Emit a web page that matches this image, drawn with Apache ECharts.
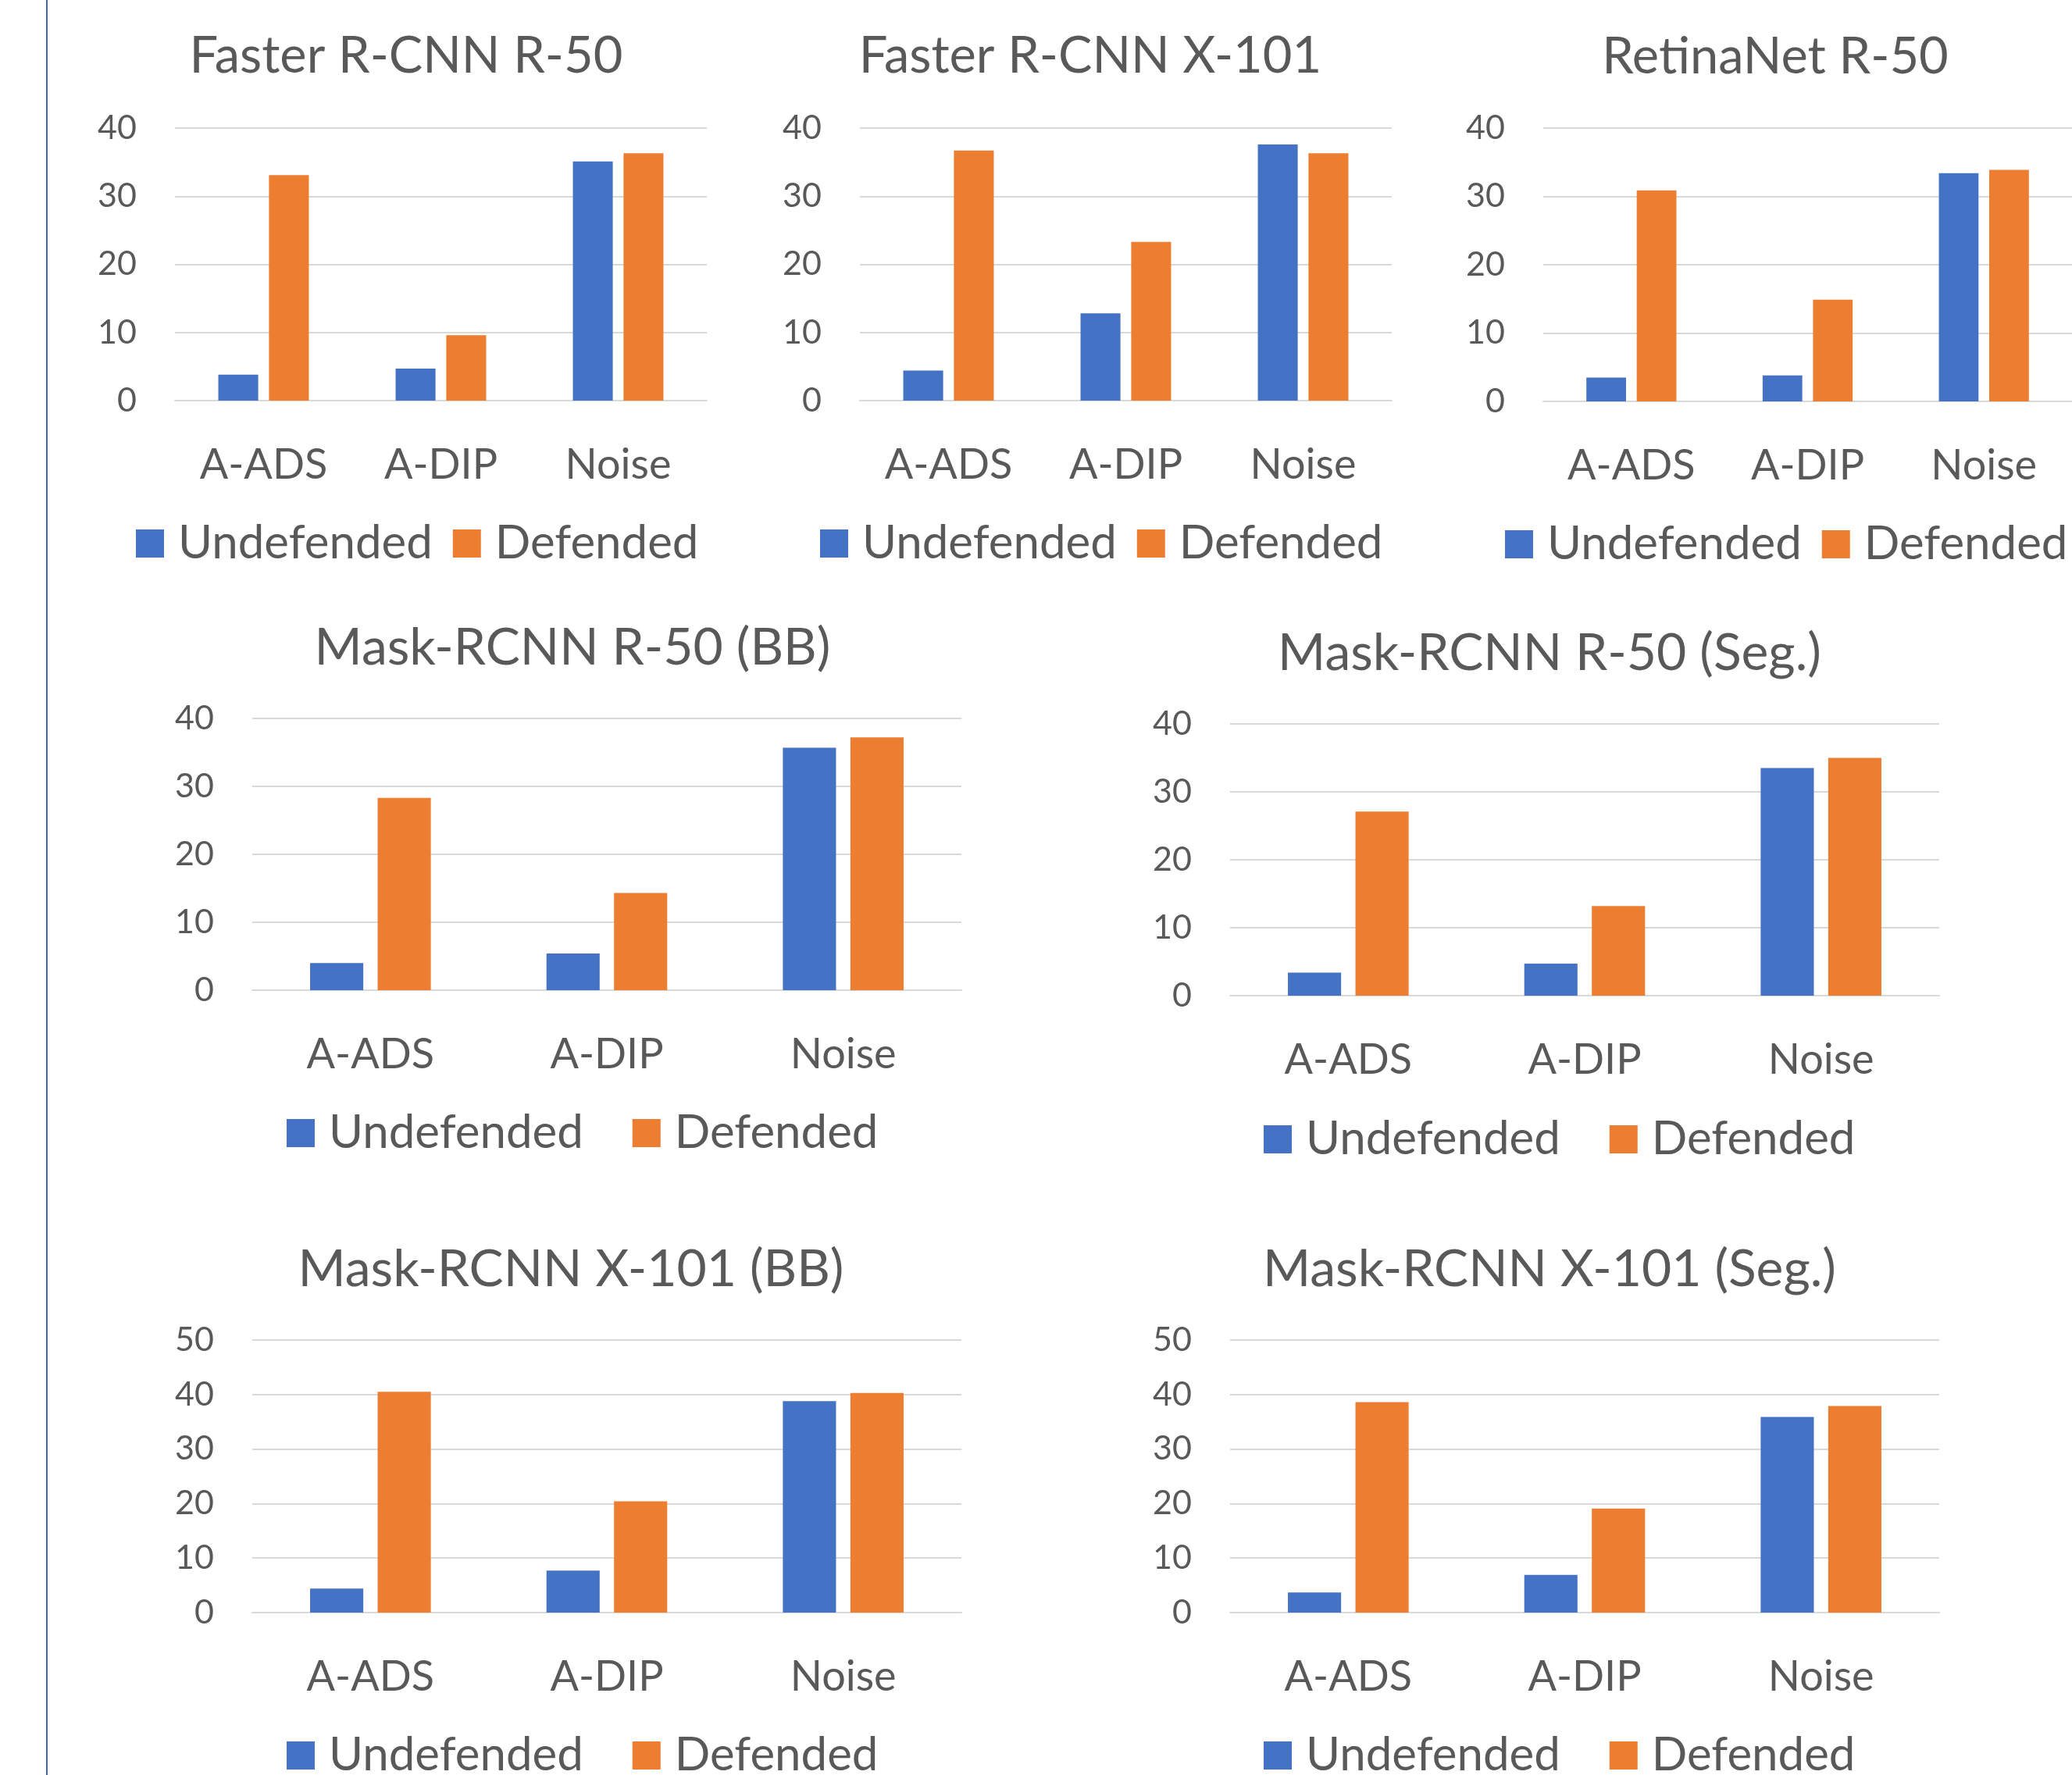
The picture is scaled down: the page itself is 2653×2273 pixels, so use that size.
<!DOCTYPE html>
<html>
<head>
<meta charset="utf-8">
<title>Undefended vs Defended</title>
<script src="https://cdn.jsdelivr.net/npm/echarts@6/dist/echarts.min.js"></script>
<style>
  html, body { margin: 0; padding: 0; background: #fff; }
  #chart { width: 2653px; height: 2273px; }
</style>
</head>
<body>
<div id="chart"></div>
<script>
const categories = ['A-ADS', 'A-DIP', 'Noise'];
const seriesNames = ['Undefended', 'Defended'];

const fasterR50Undefended = [3.8, 4.7, 35.1];
const fasterR50Defended = [33.1, 9.6, 36.3];
const fasterX101Undefended = [4.4, 12.8, 37.6];
const fasterX101Defended = [36.7, 23.3, 36.3];
const retinaR50Undefended = [3.5, 3.8, 33.4];
const retinaR50Defended = [30.9, 14.9, 33.9];
const maskR50BBUndefended = [4.0, 5.4, 35.7];
const maskR50BBDefended = [28.3, 14.3, 37.2];
const maskR50SegUndefended = [3.4, 4.7, 33.5];
const maskR50SegDefended = [27.1, 13.2, 35.0];
const maskX101BBUndefended = [4.4, 7.7, 38.8];
const maskX101BBDefended = [40.5, 20.4, 40.3];
const maskX101SegUndefended = [3.7, 6.9, 35.9];
const maskX101SegDefended = [38.6, 19.1, 37.9];

const yMax40 = 40;
const yMax50 = 50;

const FONT = 'Lato';
const TEXT = '#595959';
const GRIDLINE = '#d9d9d9';
const BLUE = '#4472C4';
const ORANGE = '#ED7D31';

// layout of each panel (pixels)
const panels = [
  { title: 'Faster R-CNN R-50', undef: fasterR50Undefended, def: fasterR50Defended, max: yMax40,
    grid: { left: 224, top: 164, width: 681, height: 349 }, tx: 520, ty: 70, ts: 65, lx: 174, ly: 696, gap: 26 },
  { title: 'Faster R-CNN X-101', undef: fasterX101Undefended, def: fasterX101Defended, max: yMax40,
    grid: { left: 1101, top: 164, width: 681, height: 349 }, tx: 1396, ty: 70, ts: 65, lx: 1050, ly: 696, gap: 26 },
  { title: 'RetinaNet R-50', undef: retinaR50Undefended, def: retinaR50Defended, max: yMax40,
    grid: { left: 1976, top: 164, width: 683, height: 350 }, tx: 2273, ty: 71, ts: 65, lx: 1927, ly: 697, gap: 26 },
  { title: 'Mask-RCNN R-50 (BB)', undef: maskR50BBUndefended, def: maskR50BBDefended, max: yMax40,
    grid: { left: 323, top: 920, width: 908, height: 348 }, tx: 733, ty: 827, ts: 66, lx: 367, ly: 1451, gap: 63 },
  { title: 'Mask-RCNN R-50 (Seg.)', undef: maskR50SegUndefended, def: maskR50SegDefended, max: yMax40,
    grid: { left: 1575, top: 927, width: 908, height: 348 }, tx: 1984, ty: 834, ts: 66, lx: 1618, ly: 1459, gap: 63 },
  { title: 'Mask-RCNN X-101 (BB)', undef: maskX101BBUndefended, def: maskX101BBDefended, max: yMax50,
    grid: { left: 323, top: 1716, width: 908, height: 349 }, tx: 731, ty: 1623, ts: 66, lx: 367, ly: 2248, gap: 63 },
  { title: 'Mask-RCNN X-101 (Seg.)', undef: maskX101SegUndefended, def: maskX101SegDefended, max: yMax50,
    grid: { left: 1575, top: 1716, width: 908, height: 349 }, tx: 1984, ty: 1623, ts: 66, lx: 1618, ly: 2248, gap: 63 }
];

const option = {
  animation: false,
  backgroundColor: '#fff',
  textStyle: { fontFamily: FONT, color: TEXT },
  title: [], grid: [], xAxis: [], yAxis: [], legend: [], series: [],
  graphic: [{
    type: 'line',
    shape: { x1: 60, y1: 0, x2: 60, y2: 2273 },
    style: { stroke: '#3F66B0', lineWidth: 2 }
  }]
};

panels.forEach((p, i) => {
  option.title.push({
    text: p.title,
    left: p.tx, top: p.ty - Math.round(p.ts / 2) + 3, textAlign: 'center', padding: 0,
    textStyle: { fontFamily: FONT, fontSize: p.ts, fontWeight: 'normal', color: TEXT }
  });
  option.grid.push(Object.assign({ containLabel: false }, p.grid));
  option.xAxis.push({
    type: 'category', gridIndex: i, data: categories,
    axisLine: { show: true, lineStyle: { color: GRIDLINE, width: 2 } },
    axisTick: { show: false },
    axisLabel: { margin: 56, fontFamily: FONT, fontSize: 54, color: TEXT }
  });
  option.yAxis.push({
    type: 'value', gridIndex: i, min: 0, max: p.max, interval: 10,
    axisLine: { show: false }, axisTick: { show: false },
    splitLine: { lineStyle: { color: GRIDLINE, width: 2 } },
    axisLabel: { margin: 49, fontFamily: FONT, fontSize: 43, color: TEXT }
  });
  option.legend.push({
    data: seriesNames,
    left: p.lx, top: p.ly - 30, padding: 0,
    itemWidth: 36, itemHeight: 36, itemGap: p.gap,
    icon: 'rect',
    textStyle: { fontFamily: FONT, fontSize: 60, color: TEXT, padding: [0, 0, 0, 13] }
  });
  option.series.push({
    name: seriesNames[0], type: 'bar', xAxisIndex: i, yAxisIndex: i,
    data: p.undef, barWidth: '22.5%', barGap: '27%',
    itemStyle: { color: BLUE }
  });
  option.series.push({
    name: seriesNames[1], type: 'bar', xAxisIndex: i, yAxisIndex: i,
    data: p.def, barWidth: '22.5%', barGap: '27%',
    itemStyle: { color: ORANGE }
  });
});

const chart = echarts.init(document.getElementById('chart'), null, { renderer: 'canvas', width: 2653, height: 2273 });
chart.setOption(option);
</script>
</body>
</html>
